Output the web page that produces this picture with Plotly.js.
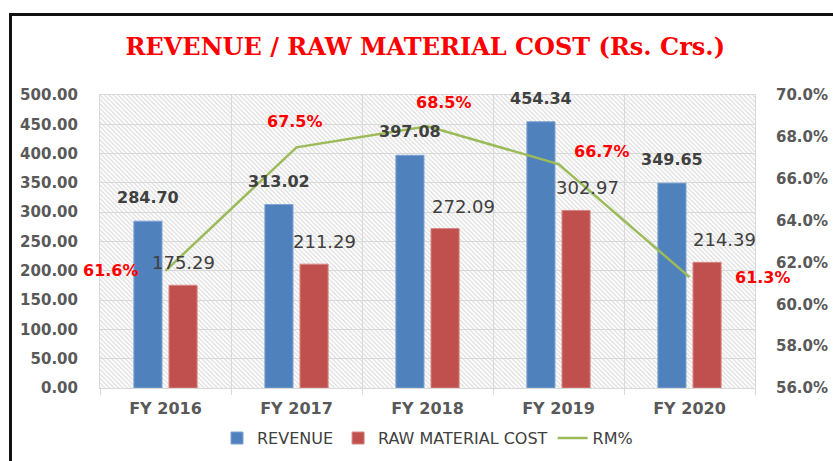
<!DOCTYPE html>
<html>
<head>
<meta charset="utf-8">
<script src="https://cdn.plot.ly/plotly-3.0.1.min.js"></script>
<style>
  html, body { margin: 0; padding: 0; width: 833px; height: 461px; overflow: hidden; background: #fff; }
  #frame { position: absolute; left: 9px; top: 13px; width: 900px; height: 500px; border-left: 3px solid #111; border-top: 3px solid #111; }
  #chart { position: absolute; left: 12px; top: 16px; width: 840px; height: 450px; }
</style>
</head>
<body>
<div id="frame"></div>
<div id="chart"></div>
<script>
// ---- data ----
const categories = ['FY 2016', 'FY 2017', 'FY 2018', 'FY 2019', 'FY 2020'];
const revenue = [284.70, 313.02, 397.08, 454.34, 349.65];
const rawMaterial = [175.29, 211.29, 272.09, 302.97, 214.39];
const rmPct = [0.616, 0.675, 0.685, 0.667, 0.613];
const seriesNames = ['REVENUE', 'RAW MATERIAL COST', 'RM%'];

// ---- label placement styles (pixel offsets) ----
const rawLabelShift = [0, 10, 18, 11, 17];
const pctLabelStyle = [
  {xshift: -25, yshift: 0, xanchor: 'right', yanchor: 'middle'},
  {xshift: -2, yshift: 14, xanchor: 'center', yanchor: 'bottom'},
  {xshift: 16, yshift: 12, xanchor: 'center', yanchor: 'bottom'},
  {xshift: 13, yshift: 13, xanchor: 'left', yanchor: 'middle'},
  {xshift: 43, yshift: 0, xanchor: 'left', yanchor: 'middle'}
];

const hatchSvg = '<svg xmlns="http://www.w3.org/2000/svg" width="655" height="293" viewBox="0 0 655 293">' +
  '<defs><pattern id="h" patternUnits="userSpaceOnUse" width="4.5" height="4.5">' +
  '<path d="M-1,3.5 L1,5.5 M0,0 L4.5,4.5 M3.5,-1 L5.5,1" stroke="#dcdcdc" stroke-width="1.2"/></pattern></defs>' +
  '<rect width="655" height="293" fill="#ffffff"/><rect width="655" height="293" fill="url(#h)"/></svg>';

const traces = [
  {type: 'bar', name: seriesNames[0], x: categories, y: revenue, yaxis: 'y', hoverinfo: 'none',
   marker: {color: '#4f81bd', line: {color: '#7ea2d2', width: 1}}},
  {type: 'bar', name: seriesNames[1], x: categories, y: rawMaterial, yaxis: 'y', hoverinfo: 'none',
   marker: {color: '#c0504d', line: {color: '#d68582', width: 1}}},
  {type: 'scatter', mode: 'lines', name: seriesNames[2], x: categories, y: rmPct, yaxis: 'y2',
   line: {color: '#9bbb59', width: 2.5}, hoverinfo: 'none'}
];

const annotations = [];
categories.forEach((c, i) => {
  annotations.push({x: c, y: revenue[i], xref: 'x', yref: 'y', text: revenue[i].toFixed(2), showarrow: false,
    xshift: -17.5, yshift: 12, yanchor: 'bottom', xanchor: 'center',
    font: {family: 'DejaVu Sans', size: 16, color: '#404040', weight: 'bold'}});
  annotations.push({x: c, y: rawMaterial[i], xref: 'x', yref: 'y', text: rawMaterial[i].toFixed(2), showarrow: false,
    xshift: 17.5 + rawLabelShift[i], yshift: 10, yanchor: 'bottom', xanchor: 'center',
    font: {family: 'DejaVu Sans', size: 18, color: '#404040'}});
  const s = pctLabelStyle[i];
  annotations.push({x: c, y: rmPct[i], xref: 'x', yref: 'y2', text: (rmPct[i] * 100).toFixed(1) + '%', showarrow: false,
    xshift: s.xshift, yshift: s.yshift, xanchor: s.xanchor, yanchor: s.yanchor,
    font: {family: 'DejaVu Sans', size: 16, color: '#ff0000', weight: 'bold'}});
});

const tickFont = {family: 'DejaVu Sans', size: 15, color: '#595959', weight: 'bold'};

const layout = {
  width: 840, height: 450,
  margin: {l: 88, r: 97, t: 79, b: 78},
  paper_bgcolor: '#ffffff',
  plot_bgcolor: 'rgba(0,0,0,0)',
  title: {text: 'REVENUE / RAW MATERIAL COST (Rs. Crs.)', xref: 'container', yref: 'container',
          x: 0.492, y: 0.933, xanchor: 'center', yanchor: 'middle',
          font: {family: 'DejaVu Serif', size: 24, color: '#ff0000', weight: 'bold'}},
  barmode: 'group', bargap: 0.464, bargroupgap: 0.2,
  showlegend: true,
  legend: {orientation: 'h', x: 0.5, xanchor: 'center', xref: 'paper', y: 0.062, yref: 'container', yanchor: 'middle',
           font: {family: 'DejaVu Sans', size: 16, color: '#404040'}, traceorder: 'normal'},
  xaxis: {type: 'category', range: [-0.5, categories.length - 0.5], autorange: false,
          tickson: 'boundaries', showgrid: true, gridcolor: '#d9d9d9', gridwidth: 1,
          ticks: 'outside', ticklen: 6, tickcolor: '#d9d9d9', showline: true, linecolor: '#d9d9d9', mirror: true,
          tickfont: {family: 'DejaVu Sans', size: 16, color: '#595959', weight: 'bold'}, ticklabelstandoff: 6,
          fixedrange: true},
  yaxis: {range: [0, 500], autorange: false, dtick: 50, tickformat: '.2f', showgrid: true, gridcolor: '#d9d9d9', gridwidth: 1,
          zeroline: false, ticks: '', showline: true, linecolor: '#d9d9d9', mirror: true,
          tickfont: tickFont, ticklabelstandoff: 18, fixedrange: true},
  yaxis2: {range: [0.56, 0.70], autorange: false, dtick: 0.02, tickformat: '.1%', overlaying: 'y', side: 'right',
           showgrid: false, zeroline: false, ticks: '', showline: false,
           tickfont: tickFont, ticklabelstandoff: 20, fixedrange: true},
  images: [{source: 'data:image/svg+xml;charset=utf-8,' + encodeURIComponent(hatchSvg),
            xref: 'paper', yref: 'paper', x: 0, y: 1, sizex: 1, sizey: 1,
            xanchor: 'left', yanchor: 'top', sizing: 'stretch', layer: 'below'}],
  annotations: annotations
};

Plotly.newPlot('chart', traces, layout, {displayModeBar: false, staticPlot: true});
</script>
</body>
</html>
